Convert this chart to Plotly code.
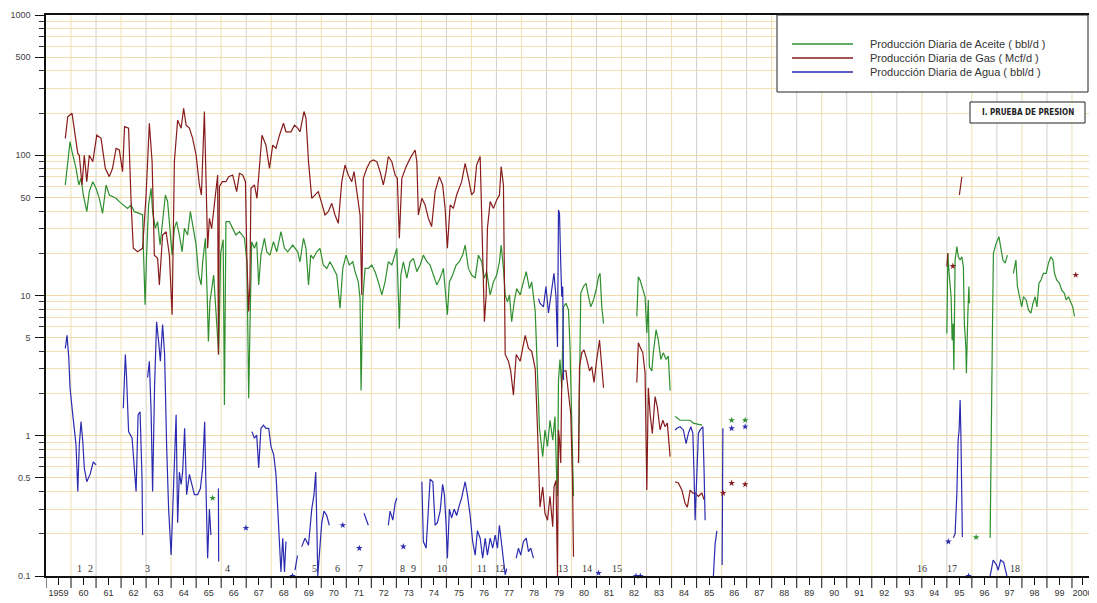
import plotly.graph_objects as go

# ---------------- data ----------------
N = None
gas_year = [1959.77,1959.87,1960.04,1960.13,1960.27,1960.33,1960.44,1960.53,1960.63,1960.73,1960.87,1961.03,1961.20,1961.37,1961.53,1961.66,1961.80,1961.93,1962.06,1962.14,1962.30,1962.41,1962.49,1962.66,1962.86,1963.00,1963.13,1963.24,1963.33,1963.46,1963.53,1963.66,1963.80,1963.93,1964.04,1964.13,1964.26,1964.40,1964.50,1964.60,1964.73,1964.86,1965.00,1965.13,1965.21,1965.33,1965.40,1965.46,1965.53,1965.62,1965.86,1965.89,1965.93,1966.05,1966.19,1966.30,1966.46,1966.62,1966.73,1966.86,1966.97,1967.03,1967.10,1967.15,1967.19,1967.33,1967.43,1967.53,1967.63,1967.79,1967.93,1968.06,1968.19,1968.33,1968.49,1968.59,1968.79,1968.93,1969.06,
            1969.15,1969.31,1969.39,1969.49,1969.62,1969.75,1969.88,1970.02,1970.15,1970.28,1970.42,1970.55,1970.68,1970.82,1970.95,1971.08,1971.22,1971.31,1971.44,1971.55,1971.62,1971.68,1971.82,1971.95,1972.08,1972.22,1972.35,1972.48,1972.59,1972.68,1972.82,1972.95,1973.04,1973.12,1973.22,1973.39,1973.55,1973.75,1973.82,1973.88,1974.02,1974.15,1974.28,1974.41,1974.55,1974.72,1974.85,1974.95,1975.04,1975.15,1975.28,1975.41,1975.61,1975.75,1975.88,1976.01,1976.11,1976.21,1976.35,1976.45,1976.52,1976.59,1976.64,1976.75,1976.88,1977.01,1977.12,1977.19,1977.28,1977.35,1977.48,1977.57,1977.68,1977.79,1977.95,1978.15,1978.28,1978.41,1978.55,1978.64,
            1978.74,1978.85,1978.94,1979.04,1979.14,1979.25,1979.30,1979.38,1979.44,1979.48,1979.52,1979.57,1979.61,1979.68,1979.78,1979.88,1979.97,1980.04,1980.08,N,
            1980.28,1980.32,1980.41,1980.50,1980.61,1980.72,1980.81,1980.90,1981.01,1981.12,1981.21,1981.28,N,
            1982.61,1982.67,1982.74,1982.85,1982.94,1983.01,1983.07,1983.14,1983.23,1983.34,1983.43,1983.54,1983.65,1983.74,1983.83,1983.94,N,
            1984.14,1984.27,1984.41,1984.54,1984.63,1984.74,1984.85,1984.94,1985.07,1985.21,1985.30,N,
            1995.00,1995.04,N,1995.50,1995.60]
gas_val = [132,188,199,156,103,100,61.4,100,64.8,100,90,139,132,80.7,70.4,80.7,112,109,76.4,160,156,41.8,21.7,20.5,21.7,52.1,169,90,19.4,18.4,11.9,27.0,28.5,19.4,7.3,90,178,156,216,164,156,132,100,61.4,52.1,205,68.5,21.7,35.5,30,72.3,3.8,60,64.8,64.8,70.4,72.3,55.0,74.3,72.3,64.8,17.4,7.7,12.5,58.1,61.4,49.3,90,139,118,80.7,118,112,139,169,147,147,164,156,
           147,205,183,90,49.3,52.1,55.0,45.4,37.5,39.6,45.4,37.5,32.7,64.8,85.2,72.3,64.8,76.4,52.1,37.5,10.1,68.5,80.7,90,92.5,90,76.4,61.4,76.4,98,90,72.3,68.5,25.6,68.5,82.9,95,109,90,37.5,49.3,44.2,35.5,31.0,55.0,70.4,61.4,41.8,21.7,44.2,41.8,52.1,64.8,87.6,68.5,52.1,55.0,85.2,98,17.4,6.5,10.1,30.1,46.7,41.8,48.0,52.1,82.9,61.4,3.8,3.4,2.9,1.95,3.8,3.4,5.2,4.2,4.0,3.0,1.13,
           0.31,0.43,0.28,0.25,0.37,0.225,0.43,0.48,0.1,1.10,0.93,0.64,2.5,2.9,2.9,2.0,1.44,0.48,0.137,N,
           0.64,3.1,3.9,4.1,3.5,2.9,3.1,2.4,3.5,4.8,3.1,2.2,N,
           2.4,4.6,4.3,3.9,2.8,0.41,2.2,1.44,1.04,1.9,1.6,1.10,1.29,1.16,1.23,0.71,N,
           0.47,0.46,0.41,0.33,0.31,0.41,0.39,0.39,0.37,0.39,0.35,N,
           16.1,20.0,N,52.1,70.3]

oil_year = [1959.77,1959.87,1959.96,1960.04,1960.20,1960.31,1960.40,1960.49,1960.63,1960.73,1960.87,1961.00,1961.13,1961.26,1961.40,1961.53,1961.66,1961.80,1961.93,1962.09,1962.26,1962.40,1962.53,1962.73,1962.86,1962.90,1962.96,1963.02,1963.10,1963.20,1963.26,1963.37,1963.46,1963.56,1963.66,1963.77,1963.86,1963.96,1964.04,1964.13,1964.22,1964.33,1964.44,1964.53,1964.66,1964.77,1964.89,1965.00,1965.10,1965.20,1965.26,1965.37,1965.44,1965.49,1965.55,1965.70,1965.90,1965.98,1966.08,1966.13,1966.19,1966.33,1966.46,1966.59,1966.73,1966.93,1967.03,1967.10,1967.15,1967.22,1967.33,1967.42,1967.50,1967.59,1967.73,1967.82,1967.95,1968.09,1968.22,1968.39,1968.53,1968.66,1968.86,1969.06,
            1969.15,1969.29,1969.39,1969.49,1969.58,1969.68,1969.82,1969.95,1970.08,1970.22,1970.35,1970.48,1970.62,1970.75,1970.86,1970.99,1971.12,1971.26,1971.35,1971.48,1971.55,1971.59,1971.66,1971.75,1971.88,1972.02,1972.15,1972.28,1972.42,1972.55,1972.68,1972.82,1972.95,1973.02,1973.08,1973.12,1973.18,1973.28,1973.42,1973.55,1973.68,1973.82,1973.95,1974.08,1974.22,1974.35,1974.48,1974.62,1974.75,1974.88,1974.97,1975.04,1975.12,1975.25,1975.39,1975.52,1975.65,1975.75,1975.88,1976.01,1976.15,1976.28,1976.41,1976.51,1976.61,1976.75,1976.88,1977.01,1977.12,1977.19,1977.28,1977.35,1977.44,1977.52,1977.61,1977.71,1977.81,1977.95,1978.08,1978.19,1978.32,1978.41,1978.55,1978.64,1978.72,
            1978.85,1978.94,1979.04,1979.14,1979.25,1979.34,1979.41,1979.44,1979.48,1979.54,1979.61,1979.68,1979.78,1979.88,1979.94,1980.01,1980.08,N,
            1980.28,1980.32,1980.37,1980.48,1980.58,1980.68,1980.77,1980.88,1980.98,1981.08,1981.14,1981.21,1981.28,N,
            1982.61,1982.67,1982.74,1982.85,1982.94,1983.01,1983.07,1983.11,1983.21,1983.27,1983.38,1983.47,1983.57,1983.67,1983.78,1983.87,1983.94,N,
            1984.14,1984.34,1984.74,1984.87,1985.21,N,
            1995.00,1995.04,1995.09,1995.13,1995.17,1995.21,1995.25,1995.28,1995.33,1995.40,1995.46,1995.53,1995.60,1995.66,1995.70,1995.76,1995.78,1995.84,1995.88,1995.90,N,
            1996.73,1996.77,1996.82,1996.86,1996.97,1997.08,1997.16,1997.24,1997.33,1997.42,N,
            1997.66,1997.76,1997.82,1997.93,1997.99,1998.06,1998.17,1998.26,1998.36,1998.44,1998.53,1998.60,1998.68,1998.76,1998.86,1998.97,1999.06,1999.16,1999.24,1999.30,1999.39,1999.50,1999.59,1999.69,1999.77,1999.86,1999.95,2000.03,2000.10]
oil_val = [61.4,90,125,106,80.7,61.4,68.5,52.1,39.6,55.0,64.8,58.1,49.3,38.5,61.4,52.1,50.7,49.3,46.7,44.2,41.8,44.2,39.6,38.5,37.5,19.4,8.6,19.4,44.2,58.1,39.6,30.1,33.6,22.9,33.6,52.1,46.7,27.0,19.4,30.1,33.6,27.0,20.5,30.1,27.0,39.6,30.1,22.9,14.0,11.9,17.4,25.6,10.1,4.7,9.0,14.0,3.8,20,25,1.66,33.6,33.6,30.1,27.0,28.5,25.6,17.4,1.85,5.8,24.2,21.7,24.2,11.9,19.4,25.6,20.5,19.4,24.2,20.5,28.5,21.7,20.5,22.9,20.5,
           17.4,25.6,21.7,11.9,19.4,18.4,20.5,21.7,16.5,15.6,17.4,15.6,14.0,8.1,15.6,19.4,16.5,17.4,14.8,12.5,9.5,2.1,9.5,15.6,15.6,16.5,14.8,12.5,10.1,12.5,17.4,16.5,19.4,21.7,10.1,5.8,14.0,17.4,13.3,17.4,18.4,14.8,16.5,19.4,17.4,16.5,14.0,11.9,13.3,15.6,10.1,7.3,12.5,14.0,16.5,17.4,19.4,22.9,15.6,14.0,13.3,19.4,17.4,13.3,14.8,10.1,12.5,14.0,17.4,22.9,15.6,10.1,9.0,10.1,6.5,9.0,11.2,10.1,12.5,14.8,11.2,12.5,7.7,2.6,1.13,
           0.71,1.10,0.84,1.29,0.93,1.37,0.48,0.37,2.5,3.5,2.2,8.3,8.8,7.9,4.3,1.04,0.37,N,
           0.64,3.9,10.4,11.6,12.2,9.8,8.3,9.3,10.9,13.6,14.4,8.3,6.3,N,
           7.1,13.6,12.9,10.9,9.8,5.4,9.3,3.1,2.9,3.9,5.7,4.8,3.5,3.9,3.5,3.7,2.1,N,
           1.37,1.29,1.29,1.23,1.19,N,
           5.37,20.0,14.4,12.2,9.8,4.8,6.3,2.94,17.9,22.3,18.9,17.9,18.9,16.1,6.3,4.3,2.79,7.5,11.6,8.8,N,
           0.187,0.60,5.37,20.0,23.5,26.3,21.1,17.9,17.0,19.4,N,
           14.4,17.9,11.6,9.3,8.3,9.8,9.3,7.9,7.5,8.8,9.8,8.3,12.2,12.9,14.4,14.4,17.0,18.9,17.9,14.4,12.9,12.2,10.9,10.4,9.3,9.8,8.8,8.3,7.1]

water_year = [1959.77,1959.84,1959.91,1959.96,1960.07,1960.13,1960.20,1960.27,1960.33,1960.40,1960.47,1960.53,1960.63,1960.76,1960.89,1961.00,N,
              1962.09,1962.17,1962.22,1962.30,1962.44,1962.53,1962.60,1962.68,1962.76,1962.84,1962.86,N,
              1963.06,1963.13,1963.20,1963.26,1963.34,1963.42,1963.50,1963.57,1963.66,1963.74,1963.82,1963.90,1964.00,1964.06,1964.14,1964.20,1964.26,1964.33,1964.40,1964.46,1964.54,1964.62,1964.73,1964.82,1964.93,1965.06,1965.17,1965.26,1965.34,1965.40,1965.46,1965.53,1965.59,N,
              1965.89,1965.90,N,
              1967.23,1967.33,1967.42,1967.50,1967.59,1967.69,1967.79,1967.90,1967.99,1968.10,1968.19,1968.26,1968.33,1968.39,1968.46,1968.53,1968.59,N,
              1968.95,1969.05,N,
              1969.22,1969.35,1969.49,1969.62,1969.71,1969.78,1969.82,1969.86,1970.02,1970.11,1970.22,1970.32,N,
              1971.71,1971.88,N,
              1972.68,1972.75,1972.86,1972.95,1973.02,N,
              1974.02,1974.08,1974.19,1974.28,1974.35,1974.46,1974.55,1974.64,1974.75,1974.85,1974.92,1974.99,1975.04,1975.12,1975.21,1975.31,1975.41,1975.52,1975.61,1975.75,1975.84,1975.95,1976.05,1976.15,1976.24,1976.35,1976.45,1976.55,1976.64,1976.75,1976.85,1976.95,1977.04,1977.12,1977.19,1977.28,1977.35,1977.41,N,
              1977.79,1977.88,1977.97,1978.08,1978.19,1978.28,1978.37,1978.48,N,
              1978.68,1978.74,1978.88,1978.98,1979.08,1979.21,1979.30,1979.38,1979.44,1979.48,1979.52,1979.57,1979.61,1979.65,1979.68,N,
              1984.14,1984.21,1984.34,1984.47,1984.58,1984.67,1984.77,1984.85,1984.90,1984.94,1985.01,1985.07,1985.14,1985.25,1985.30,1985.34,N,
              1985.67,1985.74,1985.81,N,
              1986.02,1986.05,N,
              1995.26,1995.33,1995.40,1995.45,1995.49,1995.53,1995.56,1995.60,1995.62,N,
              1996.73,1996.85,1996.98,1997.05,1997.15,1997.27,1997.40]
water_val = [4.2,5.2,3.6,2.2,1.41,1.13,0.86,0.40,0.86,1.26,0.91,0.59,0.47,0.53,0.65,0.62,N,
             1.57,3.8,2.6,1.07,0.96,0.55,0.40,1.41,1.48,0.47,0.196,N,
             2.6,3.4,1.48,0.40,2.3,6.5,4.7,3.4,6.2,3.8,0.86,0.30,0.141,0.29,0.65,1.41,0.24,0.55,0.45,0.55,1.13,0.38,0.53,0.45,0.38,0.38,0.42,0.59,1.26,0.38,0.134,0.30,0.196,N,
             0.42,0.127,N,
             1.07,0.96,1.01,0.59,1.13,1.19,1.13,1.13,0.84,0.73,0.53,0.30,0.166,0.107,0.186,0.107,0.176,N,
             0.11,0.14,N,
             0.162,0.186,0.166,0.30,0.38,0.55,0.24,0.10,0.24,0.29,0.27,0.23,N,
             0.28,0.23,N,
             0.23,0.29,0.25,0.33,0.36,N,
             0.47,0.176,0.158,0.29,0.49,0.47,0.23,0.24,0.29,0.45,0.38,0.23,0.134,0.30,0.26,0.30,0.27,0.32,0.36,0.47,0.38,0.27,0.176,0.141,0.21,0.186,0.134,0.186,0.141,0.186,0.158,0.196,0.158,0.23,0.176,0.127,0.102,0.113,N,
             0.134,0.158,0.141,0.176,0.186,0.149,0.158,0.134,N,
             9.5,8.8,8.3,11.6,7.5,10.9,14.4,9.8,4.3,40.7,38.5,17.0,9.8,11.6,2.5,N,
             1.10,1.13,1.16,1.10,0.88,1.04,1.16,1.04,0.51,0.25,0.54,1.04,1.10,1.16,0.54,0.25,N,
             0.10,0.17,0.21,N,
             0.12,1.13,N,
             0.187,0.20,0.39,0.93,1.10,1.80,1.04,0.31,0.19,N,
             0.10,0.13,0.12,0.11,0.13,0.125,0.10]

# isolated single readings (asterisks)
oil_pt_year = [1965.66, 1986.40, 1986.94, 1996.17]
oil_pt_val = [0.36, 1.29, 1.29, 0.189]
gas_pt_year = [1986.06, 1986.40, 1986.94, 1995.24, 2000.15]
gas_pt_val = [0.39, 0.46, 0.45, 16.2, 14.0]
water_pt_year = [1966.99, 1968.85, 1970.86, 1971.52, 1973.28, 1981.08, 1982.58, 1982.75, 1986.40, 1986.94, 1995.06, 1995.87]
water_pt_val = [0.22, 0.10, 0.23, 0.158, 0.162, 0.105, 0.10, 0.10, 1.13, 1.16, 0.176, 0.10]

# pressure tests (numbered)
test_labels = ["1", "2", "3", "4", "5", "6", "7", "8", "9", "10", "11", "12",
               "13", "14", "15", "16", "17", "18"]
test_year = [1960.32, 1960.76, 1963.04, 1966.27, 1969.71, 1970.63, 1971.55, 1973.23, 1973.67,
             1974.83, 1976.43, 1977.15, 1979.66, 1980.62, 1981.82, 1994.01, 1995.21, 1997.73]

year_labels = ["1959"] + ["%02d" % (y % 100) for y in range(1960, 2000)] + ["2000"]
y_tick_vals = [0.1, 0.5, 1, 5, 10, 50, 100, 500, 1000]
y_tick_text = ["0.1", "0.5", "1", "5", "10", "50", "100", "500", "1000"]

series_names = ["Producción Diaria de Aceite ( bbl/d )",
                "Producción Diaria de Gas ( Mcf/d )",
                "Producción Diaria de Agua ( bbl/d )"]
OIL_C, GAS_C, WAT_C = "#2f8f2f", "#861c1c", "#2b2bb0"

# ---------------- figure ----------------
fig = go.Figure()
fig.add_trace(go.Scatter(x=oil_year, y=oil_val, mode="lines", line=dict(color=OIL_C, width=1.2),
                         connectgaps=False, name=series_names[0], showlegend=False))
fig.add_trace(go.Scatter(x=gas_year, y=gas_val, mode="lines", line=dict(color=GAS_C, width=1.2),
                         connectgaps=False, name=series_names[1], showlegend=False))
fig.add_trace(go.Scatter(x=water_year, y=water_val, mode="lines", line=dict(color=WAT_C, width=1.2),
                         connectgaps=False, name=series_names[2], showlegend=False))
for xs, ys, c in [(oil_pt_year, oil_pt_val, OIL_C), (gas_pt_year, gas_pt_val, GAS_C),
                  (water_pt_year, water_pt_val, WAT_C)]:
    fig.add_trace(go.Scatter(x=xs, y=ys, mode="markers", cliponaxis=False,
                             marker=dict(symbol="star", size=5, color=c), showlegend=False))

PLOT_W = 1051.0
PLOT_H = 561.0
PAGE_PAD = 8  # default body margin of the html page

shapes = []
# year-boundary vertical grid lines (alternating colours) and long boundary ticks
for yr in range(1960, 2001):
    shapes.append(dict(type="line", xref="x", yref="paper", x0=yr, x1=yr, y0=0, y1=1,
                       line=dict(color="#cfcfca" if yr % 2 else "#ebe1b2", width=1), layer="below"))
for yr in range(1959, 2002):
    shapes.append(dict(type="line", xref="x", yref="paper", x0=yr, x1=yr, y0=0, y1=-12 / PLOT_H,
                       line=dict(color="#111", width=1), layer="above"))

def px2paper_x(px):
    return (px - 46) / PLOT_W

def py2paper_y(py):
    return 1 - (py - 15) / PLOT_H

# custom legend box
shapes.append(dict(type="rect", xref="paper", yref="paper",
                   x0=px2paper_x(777), x1=px2paper_x(1088), y0=py2paper_y(92), y1=py2paper_y(15),
                   line=dict(color="#222", width=1), fillcolor="white", layer="above"))
annotations = []
for row, (nm, c) in enumerate(zip(series_names, [OIL_C, GAS_C, WAT_C])):
    yy = py2paper_y(44 + 14 * row)
    shapes.append(dict(type="line", xref="paper", yref="paper", x0=px2paper_x(792), x1=px2paper_x(853),
                       y0=yy, y1=yy, line=dict(color=c, width=1.3), layer="above"))
    annotations.append(dict(xref="paper", yref="paper", x=px2paper_x(868), y=yy, text=nm,
                            showarrow=False, xanchor="left", yanchor="middle",
                            font=dict(size=11, color="#333", family="Liberation Sans, Arial")))

# "I. PRUEBA DE PRESION" box
shapes.append(dict(type="rect", xref="paper", yref="paper",
                   x0=px2paper_x(970), x1=px2paper_x(1085), y0=py2paper_y(123), y1=py2paper_y(102),
                   line=dict(color="#222", width=1), fillcolor="white", layer="above"))
annotations.append(dict(xref="paper", yref="paper", x=px2paper_x(1027.5), y=py2paper_y(112.5),
                        text="<b>I. PRUEBA DE PRESION</b>", showarrow=False,
                        xanchor="center", yanchor="middle",
                        font=dict(size=8, color="#222", family="DejaVu Sans Condensed, Liberation Sans Narrow, Arial")))

for lbl, yr in zip(test_labels, test_year):
    annotations.append(dict(x=yr, y=-0.943, xref="x", yref="y", text=lbl, showarrow=False,
                            xanchor="center", yanchor="middle",
                            font=dict(size=10, color="#333", family="Liberation Serif, Times New Roman")))

minor_y = [m * 10 ** e for e in range(-1, 3) for m in range(2, 10)]
x_label_pos = [1959.5 + i for i in range(len(year_labels) - 1)] + [2000.42]

fig.update_layout(
    template="none",
    width=1097 - PAGE_PAD, height=603 - PAGE_PAD,
    margin=dict(l=46 - PAGE_PAD, r=0, t=15 - PAGE_PAD, b=27, autoexpand=False),
    paper_bgcolor="white", plot_bgcolor="white",
    showlegend=False,
    shapes=shapes, annotations=annotations,
    xaxis=dict(range=[1959, 2001], tickmode="array", automargin=False,
               tickvals=x_label_pos, ticktext=year_labels,
               ticks="outside", ticklen=7, tickcolor="#111", tickwidth=1, ticklabelstandoff=0,
               showgrid=False, zeroline=False,
               showline=True, linecolor="#111", linewidth=1.5, mirror=True,
               tickfont=dict(size=9, color="#333", family="Liberation Sans Narrow, Liberation Sans, Arial")),
    yaxis=dict(type="log", range=[-1, 3], tickmode="array", tickvals=y_tick_vals, ticktext=y_tick_text,
               automargin=False,
               ticks="outside", ticklen=9, tickcolor="#111", ticklabelstandoff=3,
               showgrid=True, gridcolor="#f1d9a9", gridwidth=1, zeroline=False,
               showline=True, linecolor="#111", linewidth=1.5,
               tickfont=dict(size=9, color="#444", family="Liberation Sans Narrow, Liberation Sans, Arial"),
               minor=dict(tickmode="array", tickvals=minor_y, ticks="outside", ticklen=5,
                          tickcolor="#333", showgrid=True, gridcolor="#f3dfb5", gridwidth=1)),
)

fig.write_html("out.html")
